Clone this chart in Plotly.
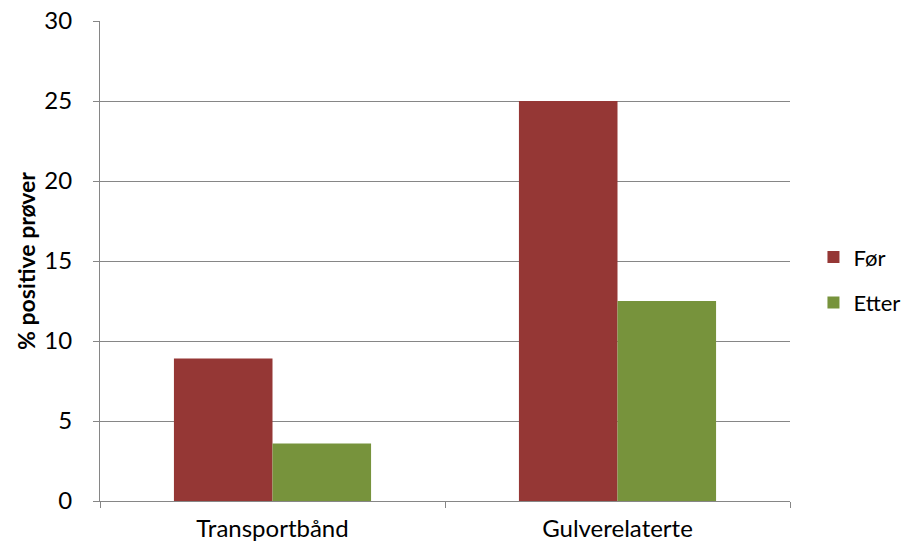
import plotly.graph_objects as go

# Andel positive prøver før og etter tiltak
categories = ["Transportbånd", "Gulverelaterte"]
series_names = ["Før", "Etter"]
for_values = [8.9, 25.0]
etter_values = [3.6, 12.5]
y_ticks = [0, 5, 10, 15, 20, 25, 30]

colors = {"Før": "#953735", "Etter": "#77933C"}
grid = "#868686"
font_family = "Lato, 'Open Sans', sans-serif"

fig = go.Figure()
for name, vals in zip(series_names, [for_values, etter_values]):
    fig.add_trace(go.Bar(
        x=categories, y=vals, name=name,
        marker=dict(color=colors[name], line=dict(width=0)),
        legendgroup=name,
    ))

fig.update_layout(
    width=908, height=547,
    margin=dict(l=100, r=118, t=21, b=46, autoexpand=False),
    paper_bgcolor="white", plot_bgcolor="white",
    barmode="group", bargap=0.4286, bargroupgap=0,
    font=dict(family=font_family, size=24, color="black"),
    showlegend=True,
    legend=dict(
        x=1.034, y=0.46, xanchor="left", yanchor="middle",
        font=dict(size=22), tracegroupgap=14, traceorder="grouped",
        itemwidth=30,
    ),
)
fig.update_xaxes(
    type="category", showline=True, linecolor=grid, linewidth=1,
    ticks="outside", tickson="boundaries", ticklen=6, tickcolor=grid,
    showgrid=False, ticklabelstandoff=6,
)
fig.update_yaxes(
    range=[0, 30], tickvals=y_ticks, showline=True, linecolor=grid, linewidth=1,
    ticks="outside", ticklen=6, tickcolor=grid,
    showgrid=True, gridcolor=grid, gridwidth=1, zeroline=False,
    ticklabelstandoff=16,
    title=dict(text="<b>% positive prøver</b>", font=dict(size=23), standoff=2),
)

fig.write_html("out.html")
